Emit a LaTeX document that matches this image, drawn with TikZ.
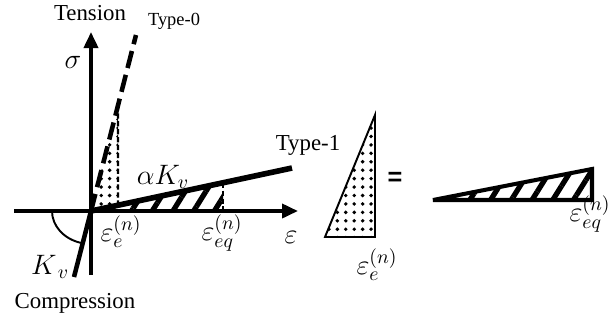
\RequirePackage{fix-cm}
\documentclass[tikz,border=0pt]{standalone}
\usepackage{fontspec}
\setmainfont{Liberation Serif}
\setsansfont{Liberation Sans}
\usetikzlibrary{arrows.meta,calc,patterns.meta}
\tikzset{
  >={Triangle[length=3.2mm,width=2.8mm]},
  % axlar och linjer
  ax/.style={->,line width=2.1pt},
  typ0/.style={line width=2.6pt,dash pattern=on 10pt off 4pt},
  typ1/.style={line width=3.2pt},
  guide/.style={line width=1.2pt,dash pattern=on 3pt off 1.5pt},
  % ytor
  dotfill/.style={pattern={Dots[radius=1.1pt,distance=4.8pt]}},
  hatch/.style={pattern={Lines[angle=58,distance=10pt,line width=3pt]}},
  % text
  lbl/.style={font=\fontsize{13}{15}\selectfont,inner sep=1pt},
  mlbl/.style={font=\fontsize{16}{18}\selectfont,inner sep=0pt},
  small/.style={font=\fontsize{10.5}{12}\selectfont,inner sep=1pt},
}
\begin{document}
\begin{tikzpicture}[x=0.02cm,y=-0.02cm]
\useasboundingbox (0,0) rectangle (612,322);
  \coordinate (o) at (91,211);
  \coordinate (t0) at (136,35);
  \coordinate (t1) at (292,168);
  \coordinate (kv) at (74,277);
  \coordinate (d) at ($(o)!0.6!(t0)$);
  \coordinate (dd) at ($(o)!27/201!(t1)$);
  \coordinate (h) at ($(o)!132/201!(t1)$);
  \coordinate (hb) at (h |- o);
  \coordinate (ybot) at (91,275);
  \coordinate (ytop) at (91,32);
  \coordinate (xl) at (14,211);
  \coordinate (xr) at (298,211);
  \fill[dotfill] (o) -- (d) -- (dd) -- cycle;
  \fill[hatch] (o) -- (h) -- (hb) -- cycle;
  \draw[guide] (d) -- (dd);
  \draw[guide] (h) -- (hb);
  \draw[ax] (ybot) -- (ytop);
  \draw[ax] (xl) -- (xr);
  \draw[typ0] (o) -- (t0);
  \draw[typ1] (o) -- (t1);
  \draw[line width=2.6pt] (o) -- (kv);
  \draw[line width=1.1pt] (52,211) arc[start angle=180,end angle=105,x radius=39,y radius=33];
  \node[lbl] (ten) at (90,13) {Tension};
  \node[small] (ty0) at (174,21) {Type-0};
  \node[mlbl] (sig) at (73,62) {$\sigma$};
  \node[mlbl] (ak) at (163,177) {$\alpha K_v$};
  \node[lbl] (ty1) at (308,145) {Type-1};
  \node[mlbl] (ee) at (121,232) {$\varepsilon_e^{(n)}$};
  \node[mlbl] (eeq) at (222,233) {$\varepsilon_{eq}^{(n)}$};
  \node[mlbl] (eps) at (291,237) {$\varepsilon$};
  \node[mlbl] (kvl) at (50,267) {$K_{\,v}$};
  \node[lbl] (comp) at (75,303) {Compression};
  % rätvinkliga trianglar
  \coordinate (a1) at (325,237);
  \coordinate (a2) at (375,237);
  \coordinate (a3) at (375,115);
  \draw[line width=1.1pt,dotfill] (a1) -- (a2) -- (a3) -- cycle;
  \node[mlbl] (ee2) at (377,265) {$\varepsilon_e^{(n)}$};
  \node[font=\sffamily\bfseries\Large] (eq) at (395,179) {=};
  \coordinate (b1) at (433,200);
  \coordinate (b2) at (592,200);
  \coordinate (b3) at (592,169);
  \draw[line width=2.3pt,line join=miter,hatch] (b1) -- (b2) -- (b3) -- cycle;
  \node[mlbl] (eeq2) at (590,214) {$\varepsilon_{eq}^{(n)}$};
\end{tikzpicture}
\end{document}
